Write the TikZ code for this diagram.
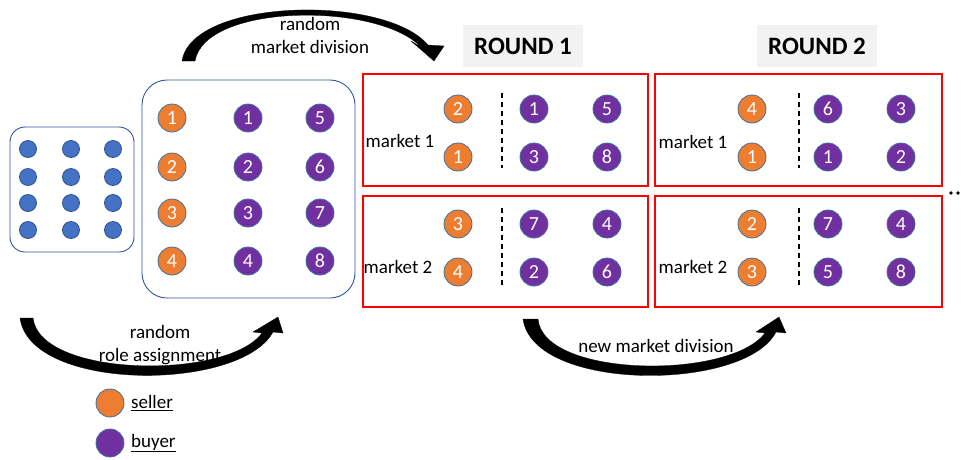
\documentclass[tikz,border=0pt]{standalone}
\usepackage{fontspec}
\setmainfont{Carlito}
\begin{document}
\begin{tikzpicture}[x=1pt,y=-1pt,
  seller/.style={circle,draw=circedge,line width=0.8pt,fill=sellerfill,minimum size=28pt,inner sep=0pt,text=white,font=\fontsize{20}{20}\selectfont},
  buyer/.style={seller,fill=buyerfill},
  agent/.style={circle,draw=dotedge,line width=0.8pt,fill=dotfill,minimum size=17pt,inner sep=0pt},
  groupbox/.style={draw=boxedge,line width=0.9pt,rounded corners=#1},
  marketbox/.style={draw=red,line width=1.5pt},
  divider/.style={draw=black,line width=1.3pt,dash pattern=on 5pt off 4pt},
  lbl/.style={font=\fontsize{19}{23}\selectfont,align=center,inner sep=0pt},
  roundhead/.style={fill=headgray,minimum width=120pt,minimum height=42pt,inner sep=0pt,font=\fontsize{25}{25}\selectfont\bfseries},
  bigarrow/.style={fill=black,draw=black,line width=0.3pt,line join=round}
]
\definecolor{sellerfill}{HTML}{ED7D31}
\definecolor{buyerfill}{HTML}{7030A0}
\definecolor{circedge}{HTML}{41719C}
\definecolor{dotfill}{HTML}{4472C4}
\definecolor{dotedge}{HTML}{2F528F}
\definecolor{boxedge}{HTML}{2F5597}
\definecolor{headgray}{HTML}{F2F2F2}

\useasboundingbox (0,0) rectangle (967,459);

% pool of participants
\draw[groupbox=15pt] (10,127) rectangle (134,252);
\foreach \c/\x in {a/28,b/71,c/113}
  \foreach \r/\y in {1/149,2/177,3/203,4/230}
    \node[agent] (p\c\r) at (\x,\y) {};

% roles after assignment
\draw[groupbox=25pt] (142,80) rectangle (355,298);
\foreach \n/\y in {1/118,2/167,3/213,4/261}
  \node[seller] (s\n) at (172,\y) {\n};
\foreach \n/\y in {1/118,2/167,3/213,4/261}
  \node[buyer] (b\n) at (248,\y) {\n};
\foreach \n/\y in {5/118,6/167,7/213,8/261}
  \node[buyer] (b\n) at (320,\y) {\n};

% round headers
\node[roundhead] (r1) at (523,46) {ROUND 1};
\node[roundhead] (r2) at (817,46) {ROUND 2};

% round 1 markets
\draw[marketbox] (363,74) rectangle (648,186);
\draw[marketbox] (363,196) rectangle (648,307);
\node[lbl] (m11) at (400,141) {market 1};
\node[lbl] (m12) at (398,267) {market 2};
\draw[divider] (502,93) -- (502,168);
\draw[divider] (502,208) -- (502,285);
\node[seller] (ra1) at (458,109) {2};
\node[seller] (ra2) at (458,157) {1};
\node[buyer]  (ra3) at (534,109) {1};
\node[buyer]  (ra4) at (534,157) {3};
\node[buyer]  (ra5) at (607,109) {5};
\node[buyer]  (ra6) at (607,157) {8};
\node[seller] (ra7) at (458,224) {3};
\node[seller] (ra8) at (458,272) {4};
\node[buyer]  (ra9) at (534,224) {7};
\node[buyer]  (ra10) at (534,272) {2};
\node[buyer]  (ra11) at (607,224) {4};
\node[buyer]  (ra12) at (607,272) {6};

% round 2 markets
\draw[marketbox] (655,74) rectangle (942,186);
\draw[marketbox] (655,196) rectangle (942,307);
\node[lbl] (m21) at (693,142) {market 1};
\node[lbl] (m22) at (693,267) {market 2};
\draw[divider] (799,93) -- (799,168);
\draw[divider] (799,208) -- (799,285);
\node[seller] (rb1) at (752,109) {4};
\node[seller] (rb2) at (752,157) {1};
\node[buyer]  (rb3) at (828,109) {6};
\node[buyer]  (rb4) at (828,157) {1};
\node[buyer]  (rb5) at (901,109) {3};
\node[buyer]  (rb6) at (901,157) {2};
\node[seller] (rb7) at (752,224) {2};
\node[seller] (rb8) at (752,272) {3};
\node[buyer]  (rb9) at (828,224) {7};
\node[buyer]  (rb10) at (828,272) {5};
\node[buyer]  (rb11) at (901,224) {4};
\node[buyer]  (rb12) at (901,272) {8};

% continuation dots
\fill (951,193) circle (1.8pt);
\fill (958,193) circle (1.8pt);

% curved arrow: random market division
\filldraw[bigarrow] (182,61) .. controls (192,-2) and (385,-6) .. (428,45)
  -- (444,46) -- (434,61) -- (411,41) -- (421,47)
  .. controls (378,2) and (205,3) .. (195,61) -- cycle;
\node[lbl] (t1) at (310,35) {random\\market division};

% curved arrow: random role assignment
\filldraw[bigarrow] (20,318) .. controls (30,392) and (240,392) .. (273,332)
  -- (283,333) -- (278,317) -- (253,332) -- (262,333)
  .. controls (228,380) and (40,378) .. (33,318) -- cycle;
\node[lbl] (t2) at (160,345) {random\\role assignment};

% curved arrow: new market division
\filldraw[bigarrow] (523,319) .. controls (533,392) and (745,392) .. (776,332)
  -- (786,333) -- (779,317) -- (756,332) -- (765,333)
  .. controls (730,380) and (543,378) .. (538,319) -- cycle;
\node[lbl] (t3) at (656,346) {new market division};

% legend
\node[seller] (ls) at (110,403) {};
\node[buyer]  (lb) at (110,443) {};
\node[lbl,anchor=west] (lst) at (131,403) {\underline{seller}};
\node[lbl,anchor=west] (lbt) at (131,443) {\underline{buyer}};
\end{tikzpicture}
\end{document}
